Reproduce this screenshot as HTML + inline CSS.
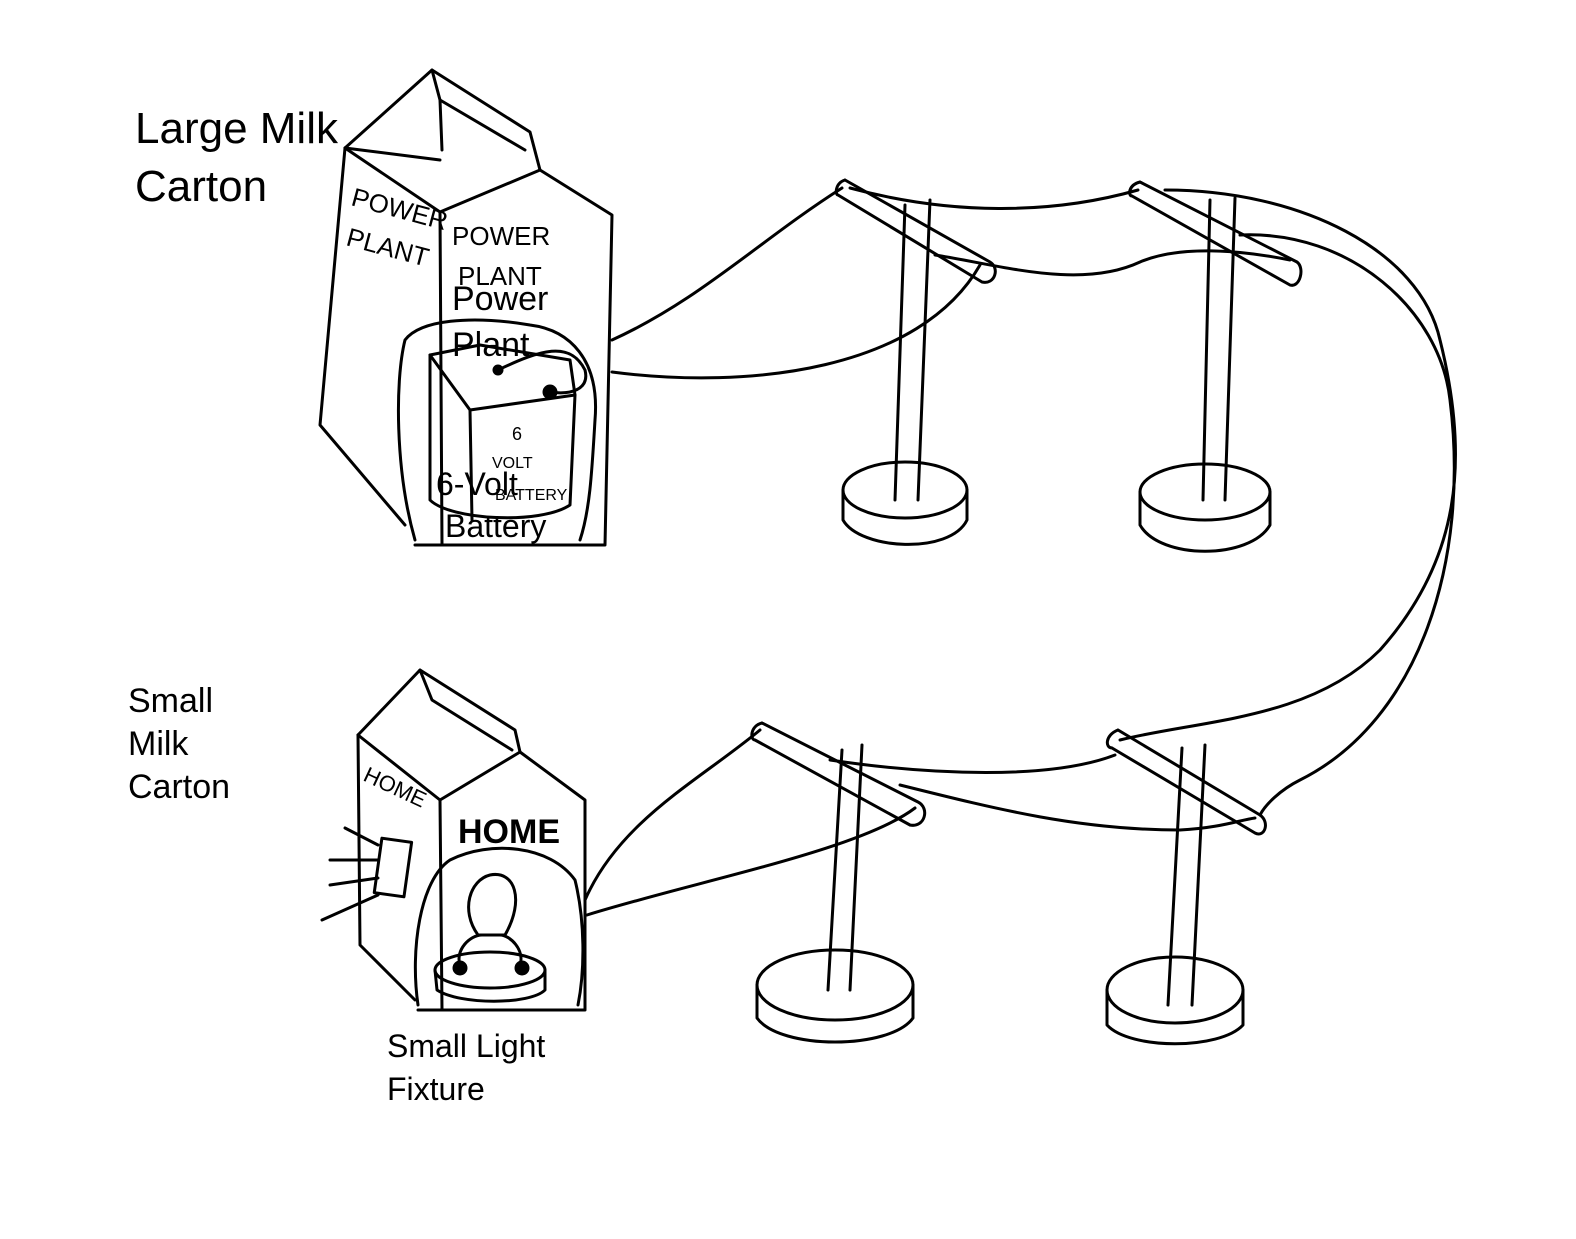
<!DOCTYPE html>
<html><head><meta charset="utf-8"><style>
html,body{margin:0;padding:0;background:#fff;}
svg{display:block;}
text{font-family:"Liberation Sans",sans-serif;fill:#000;}
</style></head><body>
<svg width="1576" height="1239" viewBox="0 0 1576 1239" xmlns="http://www.w3.org/2000/svg">
<rect width="1576" height="1239" fill="#fff"/>
<g fill="none" stroke="#000" stroke-width="3" stroke-linecap="round" stroke-linejoin="round">
<!-- Large carton -->
<path d="M345,148 L320,425 L405,525"/>
<path d="M345,148 L440,212 L442,545"/>
<path d="M440,212 L540,170 L612,215 L605,545 L415,545"/>
<path d="M345,148 L432,70 L530,132 L540,170"/>
<path d="M432,70 L440,100 L525,150"/>
<path d="M440,100 L442,150 M345,148 L440,160"/>
<!-- battery blob -->
<path d="M415,540 C395,470 395,380 405,340 C420,320 470,315 530,325 C570,330 600,360 595,420 C592,470 590,510 580,540"/>
<path d="M430,355 L480,345 L570,360 L575,395 L470,410 Z"/>
<path d="M430,355 L430,500 C450,520 540,525 570,505 L575,395"/>
<path d="M470,410 L472,520"/>
<circle cx="498" cy="370" r="4" fill="#000"/>
<circle cx="550" cy="392" r="6" fill="#000"/>
<path d="M498,370 C540,350 570,340 585,370 C590,390 570,395 550,392"/>
<!-- Poles top -->
<path d="M905,205 L895,500 M930,200 L918,500"/>
<ellipse cx="905" cy="490" rx="62" ry="28"/>
<path d="M843,490 L843,520 C860,550 950,555 967,520 L967,490"/>
<path d="M845,180 L990,262 M838,195 L982,282 M845,180 C835,183 835,195 838,195 M990,262 C1000,268 995,285 982,282"/>
<path d="M1210,200 L1203,500 M1235,198 L1225,500"/>
<ellipse cx="1205" cy="492" rx="65" ry="28"/>
<path d="M1140,492 L1140,525 C1160,560 1250,560 1270,525 L1270,492"/>
<path d="M1140,182 L1297,262 M1132,196 L1290,285 M1140,182 C1128,185 1128,196 1132,196 M1297,262 C1305,268 1300,288 1290,285"/>
<!-- Poles bottom -->
<path d="M842,750 L828,990 M862,745 L850,990"/>
<ellipse cx="835" cy="985" rx="78" ry="35"/>
<path d="M757,985 L757,1018 C780,1050 890,1050 913,1018 L913,985"/>
<path d="M762,723 L918,802 M755,740 L910,825 M762,723 C750,726 750,740 755,740 M918,802 C930,808 925,828 910,825"/>
<path d="M1182,748 L1168,1005 M1205,745 L1192,1005"/>
<ellipse cx="1175" cy="990" rx="68" ry="33"/>
<path d="M1107,990 L1107,1025 C1130,1050 1220,1050 1243,1025 L1243,990"/>
<path d="M1118,730 L1260,815 M1112,748 L1255,833 M1118,730 C1105,735 1105,748 1112,748 M1260,815 C1270,822 1265,838 1255,833"/>
<!-- Wires -->
<path d="M612,340 C700,300 760,240 842,188"/>
<path d="M612,372 C750,390 920,370 980,265"/>
<path d="M850,188 C950,215 1050,215 1138,190"/>
<path d="M935,255 C1000,265 1080,290 1140,262 C1180,245 1240,250 1290,260"/>
<path d="M1165,190 C1300,190 1420,250 1440,340 C1470,460 1460,560 1380,650 C1310,720 1200,720 1120,740"/>
<path d="M1240,235 C1350,230 1440,310 1450,400 C1470,560 1420,720 1300,780 C1280,790 1265,805 1260,815"/>
<path d="M585,900 C620,820 700,780 760,730"/>
<path d="M587,915 C700,880 860,850 915,808"/>
<path d="M830,760 C930,775 1050,780 1115,755"/>
<path d="M900,785 C1000,810 1080,830 1180,830 C1220,828 1240,820 1255,818"/>
<!-- Small carton -->
<path d="M358,735 L360,945 L415,1000"/>
<path d="M358,735 L440,800 L442,1010"/>
<path d="M440,800 L520,752 L585,800 L585,1010 L418,1010"/>
<path d="M358,735 L420,670 L515,730 L520,752"/>
<path d="M420,670 L432,700 L512,750"/>
<rect x="378" y="840" width="30" height="55" transform="rotate(8 393 867)"/>
<path d="M345,828 L378,845 M330,860 L378,860 M330,885 L378,878 M322,920 L378,895"/>
<path d="M418,1005 C410,950 420,880 450,860 C490,840 550,845 575,880 C585,920 585,970 578,1005"/>
<ellipse cx="490" cy="970" rx="55" ry="18"/>
<path d="M435,970 L437,990 C460,1005 530,1005 545,990 L545,970"/>
<path d="M478,935 C460,910 470,880 490,875 C515,870 525,900 505,935 Z"/>
<path d="M460,965 C455,950 470,935 482,935 M520,965 C525,950 510,935 500,935"/>
<circle cx="460" cy="968" r="6" fill="#000"/><circle cx="522" cy="968" r="6" fill="#000"/>
</g>
<!-- handwritten labels -->
<g font-size="26" font-family="Liberation Sans, sans-serif" fill="#000">
<text x="350" y="205" transform="rotate(15 350 205)">POWER</text>
<text x="345" y="245" transform="rotate(15 345 245)">PLANT</text>
<text x="452" y="245">POWER</text>
<text x="458" y="285">PLANT</text>
<text x="362" y="780" transform="rotate(25 362 780)" font-size="22">HOME</text>
<text x="512" y="440" font-size="18">6</text>
<text x="492" y="468" font-size="16">VOLT</text>
<text x="495" y="500" font-size="16">BATTERY</text>
</g>
<text x="135" y="143" font-size="44">Large Milk</text>
<text x="135" y="201" font-size="44">Carton</text>
<text x="452" y="310" font-size="34">Power</text>
<text x="452" y="356" font-size="34">Plant</text>
<text x="436" y="495" font-size="32">6-Volt</text>
<text x="445" y="537" font-size="32">Battery</text>
<text x="128" y="712" font-size="34">Small</text>
<text x="128" y="755" font-size="34">Milk</text>
<text x="128" y="798" font-size="34">Carton</text>
<text x="458" y="843" font-size="34" font-weight="bold">HOME</text>
<text x="387" y="1057" font-size="32">Small Light</text>
<text x="387" y="1100" font-size="32">Fixture</text>
</svg>
</body></html>
